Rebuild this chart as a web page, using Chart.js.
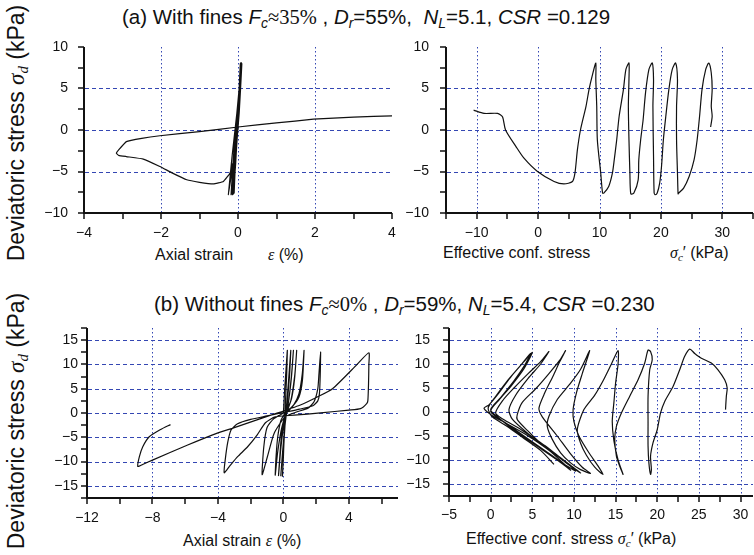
<!DOCTYPE html>
<html>
<head>
<meta charset="utf-8">
<script src="https://cdn.jsdelivr.net/npm/chart.js@4.4.0/dist/chart.umd.min.js"></script>
<style>
body{margin:0;width:754px;height:555px;overflow:hidden;background:#fff;position:relative;font-family:"Liberation Sans",Arial,sans-serif;color:#111;}
canvas{position:absolute;}
.t{position:absolute;white-space:nowrap;}
.ttl{font-size:20.5px;}
.ttl sub{font-size:0.68em;vertical-align:-0.3em;line-height:0;}
.sr{font-family:"Liberation Serif","DejaVu Serif",serif;}
.yt{font-size:23px;transform:translate(-50%,-50%) rotate(-90deg);}
.yt i{font-family:"Liberation Serif",serif;}
.yt sub{font-size:0.65em;vertical-align:-0.3em;line-height:0;}
.xt{font-size:16px;transform:translateY(-50%);}
.xt i{font-family:"Liberation Serif",serif;}
.xt sub{font-size:0.7em;vertical-align:-0.3em;line-height:0;}
</style>
</head>
<body>
<div class="t ttl" style="left:122px;top:5px">(a) With fines <i>F<sub>c</sub></i><span class="sr">≈35%</span> , <i>D<sub>r</sub></i>=55%,&nbsp; <i>N<sub>L</sub></i>=5.1, <i>CSR</i> =0.129</div>
<div class="t ttl" style="left:154px;top:292px">(b) Without fines <i>F<sub>c</sub></i><span class="sr">≈0%</span> , <i>D<sub>r</sub></i>=59%, <i>N<sub>L</sub></i>=5.4, <i>CSR</i> =0.230</div>
<div class="t yt" style="left:16px;top:133px">Deviatoric stress <i>σ<sub>d</sub></i> (kPa)</div>
<div class="t yt" style="left:16px;top:421px">Deviatoric stress <i>σ<sub>d</sub></i> (kPa)</div>
<div class="t xt" style="left:155px;top:255px">Axial strain</div>
<div class="t xt" style="left:268px;top:255px"><i>ε</i> (%)</div>
<div class="t xt" style="left:443px;top:253px">Effective conf. stress</div>
<div class="t xt" style="left:670px;top:253px"><i>σ<sub>c</sub></i>′ (kPa)</div>
<div class="t xt" style="left:183px;top:541px">Axial strain <i>ε</i> (%)</div>
<div class="t xt" style="left:466px;top:539px">Effective conf. stress <i>σ<sub>c</sub></i>′ (kPa)</div>

<canvas id="g_a_strain"></canvas>
<canvas id="g_a_conf"></canvas>
<canvas id="g_b_strain"></canvas>
<canvas id="g_b_conf"></canvas>

<script>
// (a) with fines: stress-strain, [strain %, deviatoric stress kPa]
const a_strain = [
  [0,0],[0.03,4],[0.06,8.0],[0.0,2],[-0.06,-3],[-0.10,-7.6],[-0.05,-2],[0.01,3],[0.07,8.1],
  [0.01,2],[-0.06,-4],[-0.12,-7.7],[-0.06,-2],[0.01,3],[0.08,8.0],[0.02,2],[-0.05,-3],[-0.14,-7.8],
  [-0.07,-2],[0.02,3],[0.08,8.1],[0.02,2],[-0.07,-4],[-0.16,-7.7],[-0.08,-2],[0.01,3],[0.09,8.0],
  [0.03,2],[-0.06,-3],[-0.18,-7.8],[-0.10,-2],[0.0,3],[0.09,8.1],[0.02,2],[-0.10,-3],[-0.25,-7.8],
  [-0.15,-3],[-0.03,2],[0.05,6],[0.10,8.0],[0.03,2],[-0.08,-3],[-0.21,-5.2],[-0.38,-6.2],[-0.64,-6.5],
  [-1.0,-6.3],[-1.33,-6.0],[-1.7,-5.2],[-2.03,-4.4],[-2.46,-3.5],[-2.9,-3.2],[-3.1,-3.05],[-3.16,-2.8],
  [-3.1,-2.4],[-2.9,-1.4],[-2.5,-1.0],[-2.03,-0.69],[-1,-0.2],[0,0.36],[1,0.85],[1.96,1.3],[3,1.55],[4.04,1.72]
];
// (a) with fines: stress path, [effective conf. stress kPa, deviatoric stress kPa]
const a_conf = [
  [28.1,0.36],[28.35,1.66],[28.2,2.85],[28.35,4.9],[28.2,6.9],[27.8,8.07],
  [27.3,7.3],[26.7,4.9],[26.3,1.66],[25.9,-1.2],[25.4,-3.6],[24.6,-5.6],[23.7,-7.0],[22.9,-7.6],
  [22.8,-7.7],[22.7,-5.2],[22.55,-1.2],[22.55,2.85],[22.7,6.1],[22.4,8.07],
  [21.85,7.3],[21.3,4.9],[20.8,1.66],[20.4,-1.2],[20.1,-4.4],[19.8,-6.4],[19.4,-7.6],
  [19.1,-7.8],[18.9,-7.6],[18.8,-3.2],[18.7,2.85],[18.8,6.1],[18.6,8.07],
  [18.05,7.3],[17.5,4.5],[17.1,1.2],[16.7,-1.2],[16.4,-3.6],[16.3,-6.0],[15.6,-7.6],[15.1,-7.7],
  [14.95,-5.2],[14.8,-1.2],[14.7,2.85],[14.8,6.1],[14.8,8.07],
  [14.3,7.3],[13.9,4.9],[13.2,1.66],[12.8,-1.2],[12.4,-3.6],[12.1,-5.2],[11.5,-6.8],[10.7,-7.6],
  [10.5,-7.6],[10.2,-5.2],[9.65,-1.2],[9.55,2.85],[9.4,6.1],[9.4,8.07],
  [8.8,6.5],[8.3,4.9],[7.8,2.85],[6.9,0],[6.4,-2.4],[6.0,-5.2],[5.6,-6.2],[4.2,-6.5],[2.6,-6.2],
  [-0.1,-5],[-2.3,-3.4],[-3.6,-2.0],[-5.3,0],[-5.8,1.6],[-6.6,2.0],[-8.8,2.0],[-10.5,2.4]
];
// (b) without fines: stress-strain
const b_strain = [
  [0,0],[0.08,5],[0.18,10],[0.24,12.9],
  [0.2,8],[0.12,2],[0.05,-4],[0,-9],[-0.06,-13],
  [0.05,-5],[0.15,0],[0.3,6],[0.45,12.9],
  [0.38,8],[0.22,1.5],[0.08,-3],[-0.05,-8],[-0.16,-12.9],
  [0,-6],[0.15,-1],[0.3,2],[0.48,7],[0.61,12.9],
  [0.5,8],[0.3,2],[0.1,-0.5],[-0.1,-4],[-0.2,-8],[-0.3,-12.9],
  [-0.15,-7],[0.05,-2],[0.25,0.5],[0.5,3],[0.68,7],[0.81,12.9],
  [0.7,8],[0.45,2.5],[0.15,0.3],[-0.15,-1.5],[-0.35,-5],[-0.45,-9],[-0.5,-12.8],
  [-0.35,-8],[-0.1,-3],[0.2,0],[0.6,1.5],[0.95,4],[1.15,8],[1.26,12.9],
  [1.16,6.7],[0.95,3.3],[0.5,1.2],[0,0],[-0.6,-1.2],[-1.0,-3],[-1.2,-7],[-1.3,-12.7],
  [-0.98,-9],[-0.57,-4.2],[0.1,-0.8],[0.8,0.2],[1.5,1.0],[1.87,2.3],[2.1,5],[2.17,8],[2.27,12.6],
  [2.25,8],[2.2,4],[2.1,2.5],[1.8,1.5],[1.0,0.8],[0,0.1],[-1,-0.6],[-2,-1.3],[-2.8,-2.2],
  [-3.2,-3.5],[-3.4,-6],[-3.55,-9.5],[-3.62,-12.3],
  [-3.3,-11],[-2.8,-9],[-2.2,-7],[-1.6,-4.5],[-1.1,-2],[-0.5,-0.8],[0.65,-0.45],[2.27,0.03],
  [4.0,0.6],[4.71,0.9],[5.1,2.0],[5.16,2.6],[5.2,6],[5.22,10],[5.22,12.4],
  [4.5,10],[3.0,5],[2.07,3.3],[1.0,1.6],[-0.77,-0.45],[-3,-3],[-4,-4.1],[-5.85,-6.6],
  [-8.0,-9.7],[-8.6,-10.6],[-8.9,-11],
  [-8.8,-9],[-8.6,-7],[-8.2,-4.9],[-7.5,-3.4],[-6.9,-2.4]
];
// (b) without fines: stress path
const b_conf = [
  [28.2,0.5],[28.3,3.3],[28.4,5.0],[28.1,6.7],[27.3,8.8],[26.5,10.2],[25.3,11.2],[24.5,12.2],[23.9,13.1],
  [23.3,11.6],[22.7,8.8],[21.9,5.3],[20.9,2.2],[20.4,-0.2],[20.0,-3.7],[19.5,-6.4],[19.2,-9.2],[19.3,-12],[19.2,-13],
  [19.0,-10.6],[18.9,-7.1],[18.9,-2.3],[18.9,3.3],[19.1,8.8],[19.4,10.9],[19.2,12.6],[18.9,12.9],
  [18.5,10.2],[17.7,6.7],[16.7,3.3],[15.7,-0.2],[15.1,-3],[14.9,-5.7],[15.1,-9.2],[15.5,-11.3],[15.9,-13],
  [15.3,-10],[14.8,-6],[14.6,-2],[14.8,2],[15.0,6],[15.3,10],[15.3,12.8],
  [14.5,10],[13.5,6.5],[12.5,3.5],[11.2,0.5],[10.4,-3.7],[10.8,-6.5],[11.5,-9],[12.5,-11.5],[13.5,-13],
  [12.8,-11],[11.8,-8.5],[10.6,-5],[10.0,-2],[9.9,0.5],[10.3,4],[11.0,8],[11.9,12.8],
  [10.8,8.9],[9.6,6.0],[8.0,2.6],[7.0,-0.9],[6.8,-3.0],[7.4,-5.7],[8.4,-8.5],[9.6,-10.6],[10.8,-12],[12.0,-12.8],
  [11.0,-11.5],[9.5,-8.5],[8.0,-5],[6.2,-1],[5.8,0.8],[6.5,4],[7.5,7.5],[8.3,10.5],[9.0,12.8],
  [8.3,10.8],[7,8],[5.5,5],[3.8,2],[3.2,-0.5],[3.2,-1.6],[4.5,-4],[6,-6.5],[7.5,-8.5],[9,-10.5],[10.8,-12.7],
  [9.5,-11],[8,-9],[6.5,-7],[4.5,-4.5],[2.6,-1.5],[2.2,0.5],[3,3.5],[4.5,7],[6,10],[7.0,12.6],
  [6,10.5],[4.5,8],[2.8,5],[1.5,2.5],[0.6,-0.2],[1.5,-1.5],[3.5,-3.5],[6,-6.5],[8,-9],[10.2,-12.3],
  [8.5,-10.5],[6.5,-8],[4,-5],[2,-2.5],[0,0.1],[1,2.5],[2.5,5.5],[4,9],[5.0,12.4],
  [4,10.5],[2.5,7.5],[1,4],[-0.2,1.5],[-0.8,0.8],[0,-0.5],[2,-2.5],[4.5,-5],[7,-8],[9.6,-12.1],
  [8,-10],[5.5,-7],[3,-4],[0.8,-1],[0,0.5],[1.2,3],[2.8,6.5],[4,9.5],[4.8,12.2],
  [3.5,9.5],[2,6.5],[0.5,3],[-0.3,0.8],[0.2,-1],[2,-3],[4,-5.5],[6,-8],[7.6,-10.9]
];

// tick labels
const a_strain_ticks = [-4,-2,0,2,4];
const a_conf_ticks = [-10,0,10,20,30];
const a_stress_ticks = [-10,-5,0,5,10];
const b_strain_ticks = [-12,-8,-4,0,4];
const b_conf_ticks = [-5,0,5,10,15,20,25,30];
const b_stress_ticks = [-15,-10,-5,0,5,10,15];

const gridColor = '#3447b3';
const EXT = 8;   // room kept inside the plot area for the outward tick marks

function pasos(a, b, s){
    let r = [];
    for(let v = a; v <= b + 1e-9; v += s){ r.push(+v.toFixed(3)); }
    return r;
}

// blue grid lines, black axis lines and tick marks, placed with the chart's scales
const ejes = {
    id: 'ejes',
    beforeDatasetsDraw(chart, args, o){
        let ctx = chart.ctx, x = chart.scales.x, y = chart.scales.y;
        let x0 = x.getPixelForValue(o.xr[0]), x1 = x.getPixelForValue(o.xr[1]);
        let y0 = y.getPixelForValue(o.yr[0]), y1 = y.getPixelForValue(o.yr[1]);
        ctx.save();
        ctx.strokeStyle = gridColor;
        ctx.lineWidth = 1;
        ctx.setLineDash([4,3]);
        o.gridY.forEach(function(v){
            let p = Math.round(y.getPixelForValue(v)) + 0.5;
            ctx.beginPath(); ctx.moveTo(x0 + 1, p); ctx.lineTo(x1, p); ctx.stroke();
        });
        ctx.setLineDash([1.5,2.5]);
        o.gridX.forEach(function(v){
            let p = Math.round(x.getPixelForValue(v)) + 0.5;
            ctx.beginPath(); ctx.moveTo(p, y1); ctx.lineTo(p, y0 - 1); ctx.stroke();
        });

        ctx.setLineDash([]);
        ctx.strokeStyle = '#111';
        ctx.lineWidth = 1.5;
        o.minorY.forEach(function(v){
            let p = Math.round(y.getPixelForValue(v));
            ctx.beginPath(); ctx.moveTo(x0 - 6, p); ctx.lineTo(x0, p); ctx.stroke();
        });
        o.minorX.forEach(function(v){
            let p = Math.round(x.getPixelForValue(v));
            ctx.beginPath(); ctx.moveTo(p, y0); ctx.lineTo(p, y0 + 6); ctx.stroke();
        });
        ctx.lineWidth = 2;
        ctx.beginPath();
        ctx.moveTo(x0, y1);
        ctx.lineTo(x0, y0);
        ctx.lineTo(x1, y0);
        ctx.stroke();
        ctx.restore();
    }
};

function panel(id, pts, c){
    let cv = document.getElementById(id);
    cv.width = c.R - c.L + 70;
    cv.height = c.B - c.T + 48;
    cv.style.left = (c.L - 58) + 'px';
    cv.style.top = (c.T - 10) + 'px';
    let xmin = c.xr[0] - EXT * (c.xr[1] - c.xr[0]) / (c.R - c.L);
    let ymin = c.yr[0] - EXT * (c.yr[1] - c.yr[0]) / (c.B - c.T);
    let ctx = cv.getContext('2d');
    return new Chart(ctx, {
        type: 'scatter',
        data: {
            datasets: [{
                data: pts.map(p => ({x: p[0], y: p[1]})),
                showLine: true,
                borderColor: '#111',
                borderWidth: 1.2,
                pointRadius: 0,
                tension: c.tension
            }]
        },
        options: {
            responsive: false,
            animation: false,
            devicePixelRatio: 1,
            layout: { padding: { left: 0, top: 10, right: 12, bottom: 0 } },
            plugins: {
                legend: { display: false },
                tooltip: { enabled: false },
                ejes: { xr: c.xr, yr: c.yr, gridX: c.gridX, gridY: c.gridY, minorX: c.minorX, minorY: c.minorY }
            },
            scales: {
                x: {
                    type: 'linear', min: xmin, max: c.xr[1],
                    grid: { display: true, drawOnChartArea: false, drawTicks: true, tickLength: c.padX, color: 'rgba(0,0,0,0)' },
                    border: { display: false },
                    afterBuildTicks: s => { s.ticks = c.tx.map(v => ({value: v})); },
                    afterFit: s => { s.height = 30; },
                    ticks: { autoSkip: false, maxRotation: 0, padding: 0, color: '#111',
                             font: { family: '"Liberation Sans", Arial', size: 14 },
                             callback: v => String(v).replace('-', '\u2212') }
                },
                y: {
                    type: 'linear', min: ymin, max: c.yr[1],
                    grid: { display: true, drawOnChartArea: false, drawTicks: true, tickLength: c.padY, color: 'rgba(0,0,0,0)' },
                    border: { display: false },
                    afterBuildTicks: s => { s.ticks = c.ty.map(v => ({value: v})); },
                    afterFit: s => { s.width = 50; },
                    ticks: { autoSkip: false, padding: 0, color: '#111',
                             font: { family: '"Liberation Sans", Arial', size: 14 },
                             callback: v => String(v).replace('-', '\u2212') }
                }
            }
        },
        plugins: [ejes]
    });
}

panel('g_a_strain', a_strain, {
    L: 84, R: 392, T: 47, B: 213,
    xr: [-4, 4], yr: [-10, 10], tx: a_strain_ticks, ty: a_stress_ticks,
    gridX: [-2, 0, 2], gridY: [-5, 0, 5],
    minorX: pasos(-4, 4, 1), minorY: pasos(-10, 10, 2.5),
    padX: 4, padY: 8, tension: 0.1
});
panel('g_a_conf', a_conf, {
    L: 446, R: 753, T: 47, B: 213,
    xr: [-15, 35], yr: [-10, 10], tx: a_conf_ticks, ty: a_stress_ticks,
    gridX: [-10, 0, 10, 20, 30], gridY: [-5, 0, 5],
    minorX: pasos(-15, 35, 5), minorY: pasos(-10, 10, 2.5),
    padX: 4, padY: 9, tension: 0.25
});
panel('g_b_strain', b_strain, {
    L: 87, R: 398, T: 328, B: 498,
    xr: [-12, 7], yr: [-17.5, 17.5], tx: b_strain_ticks, ty: b_stress_ticks,
    gridX: [-8, -4, 0, 4], gridY: [-15, -10, -5, 0, 5, 10, 15],
    minorX: pasos(-12, 6, 2), minorY: pasos(-17.5, 17.5, 2.5),
    padX: 4, padY: 1, tension: 0.2
});
panel('g_b_conf', b_conf, {
    L: 449, R: 753, T: 328, B: 496,
    xr: [-5, 31.5], yr: [-17.5, 17.5], tx: b_conf_ticks, ty: b_stress_ticks,
    gridX: [0, 5, 10, 15, 20, 25, 30], gridY: [-15, -10, -5, 0, 5, 10, 15],
    minorX: pasos(-5, 30, 2.5), minorY: pasos(-17.5, 17.5, 2.5),
    padX: 3, padY: 11, tension: 0.25
});
</script>
</body>
</html>
